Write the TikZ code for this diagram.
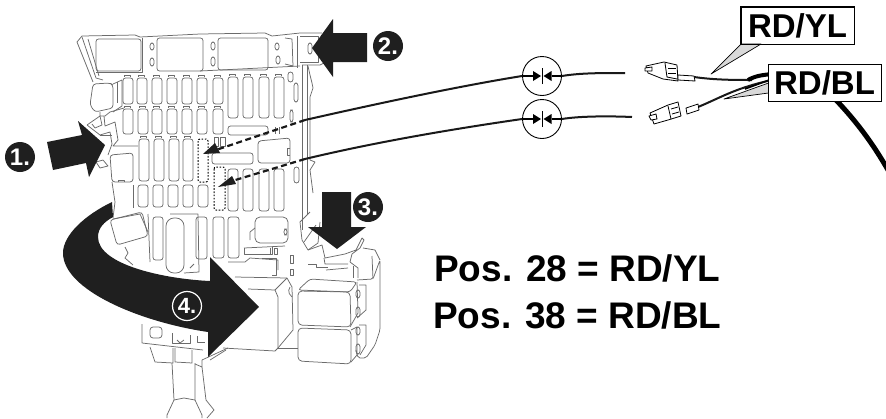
\documentclass[tikz,border=0pt]{standalone}
\usepackage{fontspec}
\setmainfont{Liberation Sans}
\newcommand{\slotbox}[4]{\draw[gl,rounded corners=2.5pt] (#1,#2) rectangle (#3,#4);}
\newcommand{\tabbed}[4]{\draw[gl,rounded corners=2.5pt] (#1,#2) rectangle (#3,#4);\draw[gl] (#1+1,#2-1)--(#1+1,#2-3)--(#3-3,#2-3)--(#3-3,#2-1);}
\newcommand{\dotbox}[4]{\draw[dotg,rounded corners=2pt] (#1,#2) rectangle (#3,#4);}
\tikzset{
  gl/.style={draw=black!58,line width=0.75pt,line join=round},
  dotg/.style={draw=black,line width=1pt,dash pattern=on 1.6pt off 1.6pt},
  wire/.style={draw=black!90,line width=2pt},
  dashwire/.style={draw=black!90,line width=2.2pt,dash pattern=on 6pt off 3.5pt},
  blk/.style={fill=black!88,draw=none},
  badge/.style={circle,fill=black!88,minimum size=30pt,inner sep=0pt,text=white,font=\fontsize{24}{24}\selectfont\bfseries},
  sym/.style={circle,draw=black,line width=0.9pt,fill=white,minimum size=39pt,inner sep=0pt},
  tag/.style={draw=black,line width=1pt,fill=white,inner sep=0pt,minimum height=37pt,minimum width=113pt,font=\fontsize{33}{33}\selectfont\bfseries},
  wedge/.style={fill=black!15,draw=black,line width=0.7pt,line join=round},
  plug/.style={draw=black,line width=0.8pt,fill=white,line join=round},
  big/.style={font=\fontsize{37}{37}\selectfont\bfseries,inner sep=0pt,anchor=base west}
}
\begin{document}
\begin{tikzpicture}[x=1pt,y=-1pt]
\useasboundingbox (0,0) rectangle (886,418);
% ---- housing outline
\draw[gl] (93,82)--(77,42)--(82,36)--(135,35)--(140,37)--(200,34)--(265,33)--(272,36)--(300,33)--(322,33);
\draw[gl] (82,37)--(96,78)--(103,80);
\draw[gl] (88,39)--(99,76);
\draw[gl] (96,72)--(142,72)--(142,38);
\draw[gl] (302,65)--(302,230);
\draw[gl] (307,65)--(307,215);
\draw[gl] (302,65)--(320,65)--(330,60);
\draw[gl] (308,66)--(310,75)--(312,83)--(313,88)--(310,97)--(310,160)--(315,162)--(310,170)--(313,193);
\draw[gl] (297,36)--(297,68);
\draw[gl] (300,36)--(318,36)--(318,62)--(300,62);
\slotbox{308}{43}{312}{54}
% ---- top big rects and little slots
\slotbox{96}{39}{141}{71}
\slotbox{157}{38}{203}{71}
\slotbox{218}{38}{268}{70}
\slotbox{150}{43}{154}{50}
\slotbox{150}{58}{154}{66}
\slotbox{211}{42}{215}{50}
\slotbox{211}{57}{215}{66}
\slotbox{275}{43}{279}{50}
\slotbox{276}{56}{280}{64}
\draw[gl] (285,38)--(292,39)--(293,66)--(285,64);
\draw[gl] (200,71)--(300,66);
% ---- slot rows
\foreach \x in {123,137,152,167,182,197,213}{\tabbed{\x}{78}{\x+10}{104}}
\foreach \x in {123,138,152,167,182,197,213}{\tabbed{\x}{109}{\x+10}{134}}
\foreach \x in {228,243,259,274}{\tabbed{\x}{77}{\x+10}{118}}
\foreach \x in {139,154,169,183}{\tabbed{\x}{139}{\x+10}{181}}
\foreach \x in {138,153,168,183,198}{\slotbox{\x}{185}{\x+10}{207}}
\foreach \x in {228,243,259,274}{\slotbox{\x}{169}{\x+10}{211}}
\slotbox{153}{217}{163}{260}
\draw[gl,rounded corners=8pt] (166,218) rectangle (184,273);
\slotbox{196}{217}{207}{259}
\slotbox{213}{217}{224}{258}
\slotbox{228}{217}{239}{258}
\draw[gl] (170,214)--(198,214)--(199,272)--(184,273);
\draw[gl] (190,268)--(194,264);
\slotbox{288}{72}{293}{82}
\slotbox{294}{83}{298}{102}
\slotbox{290}{110}{293}{122}
\slotbox{228}{126}{268}{135}
\slotbox{212}{153}{253}{164}
\draw[gl,rounded corners=3pt] (258,141)--(290,138)--(290,163)--(258,163)--cycle;
\draw[gl] (290,148)--(287,148)--(287,155)--(290,155);
\draw[gl] (275,127)--(275,134);\draw[gl] (279,127)--(279,134);
\slotbox{294}{167}{299}{183}
\draw[gl] (214,137) rectangle (218,146);
\draw[gl] (220,137) rectangle (225,146);
% lower mid detail
\draw[gl,rounded corners=5pt] (255,217) rectangle (288,243);
\draw[gl] (255,228)--(250,232)--(250,240);
\slotbox{284}{229}{287}{235}
\draw[gl] (244,248)--(285,246);
\draw[gl] (244,248)--(244,254)--(272,254)--(272,247);
\draw[gl] (270,248)--(270,254);\draw[gl] (274,248) rectangle (277,254);
\draw[gl] (228,262)--(245,262)--(250,258)--(278,260)--(278,270);
\draw[gl] (262,258)--(276,258)--(276,275)--(272,275);
\draw[gl] (290,255) rectangle (293,263);
\draw[gl] (290,269) rectangle (293,275);
% ---- left side blocks
\draw[gl,rounded corners=3pt] (93,84)--(110,83)--(113,85)--(113,108)--(95,112)--(90,105)--cycle;
\draw[gl] (113,84)--(122,80)--(122,106)--(113,112);
\draw[gl] (117,82)--(117,103);
\draw[gl] (100,112)--(100,116)--(105,116)--(110,112)--(124,108);
\draw[gl] (87,125)--(100,116)--(102,125)--(95,128)--(92,124);
\draw[gl] (87,125)--(100,135)--(110,132)--(112,144)--(108,155);
\draw[gl] (104,116)--(105,126)--(115,122)--(118,140)--(113,146)--(138,146);
\draw[gl] (100,135)--(112,135);
\draw[gl] (96,162)--(100,168)--(108,166)--(103,160)--cycle;
\draw[gl,rounded corners=3pt] (110,155)--(133,153)--(133,182)--(112,182)--cycle;
\draw[gl] (118,182)--(118,180)--(124,180)--(124,182);
\draw[gl] (133,185)--(133,208);
\draw[gl] (112,182)--(115,202)--(113,218);
% lower-left block
\draw[gl,rounded corners=3pt] (110,220)--(142,212)--(148,236)--(117,245)--cycle;
\draw[gl] (113,219)--(140,214)--(148,232);
\draw[gl] (125,247)--(128,253)--(125,258)--(133,265);
\draw[gl] (148,214)--(150,262);
% ---- bottom
\draw[gl] (142,324)--(142,343)--(203,350);
\draw[gl,rounded corners=3pt] (150,327) rectangle (162,338);
\draw[gl] (172,333)--(172,343)--(190,343)--(190,335);
\draw[gl] (177,340)--(180,343)--(184,340);
\draw[gl] (197,336)--(197,342)--(205,342);
\draw[gl] (150,347)--(155,362)--(173,363)--(173,348);
\draw[gl] (175,348)--(175,362)--(192,363)--(192,350);
\draw[gl] (172,363)--(174,400)--(167,415)--(167,418);
\draw[gl] (195,363)--(195,400)--(202,415)--(202,418);
\draw[gl] (174,400)--(184,398)--(195,400);
\draw[gl] (202,367)--(206,400)--(214,410)--(207,418);
\draw[gl] (195,364)--(202,367)--(202,360)--(228,348);
\draw[gl] (210,360)--(226,350);
% ---- big connector box
\draw[gl] (235,277)--(287,278)--(292,287)--(293,330)--(278,348)--(275,351)--(223,348);
\draw[gl] (248,289)--(275,290)--(278,297)--(278,348);
\draw[gl] (287,278)--(275,290);
\draw[gl] (278,348)--(298,348);
\draw[gl,rounded corners=2pt] (290,287)--(288,292)--(292,297);
% ---- relays
\draw[gl,rounded corners=3pt] (310,279)--(357,282)--(350,292)--(298,290)--cycle;
\draw[gl,rounded corners=4pt] (298,291)--(350,292)--(351,327)--(298,325)--cycle;
\draw[gl] (357,282)--(358,313)--(350,327);
\draw[gl,rounded corners=4pt] (298,328)--(351,330)--(351,364)--(298,361)--cycle;
\draw[gl] (351,362)--(357,355)--(357,327)--(351,330);
\draw[gl,rounded corners=2pt] (357,280)--(373,279)--(380,260)--(380,330)--(375,345)--(366,358)--(358,358)--(356,350);
\draw[gl] (363,248)--(375,250)--(380,260);
\draw[gl] (373,279)--(372,256);
\draw[gl] (359,285)--(366,285)--(366,310)--(357,318);
\draw[gl] (359,325)--(366,325)--(366,345)--(360,355);
\slotbox{356}{290}{360}{298}
\slotbox{356}{307}{360}{317}
\slotbox{356}{327}{360}{335}
\slotbox{356}{344}{360}{354}
% under arrow 3
\draw[gl] (310,212)--(300,222)--(302,240)--(308,250)--(318,243)--(320,222);
\draw[gl] (304,242)--(316,225);
\draw[gl] (308,250)--(322,245)--(325,258)--(345,254)--(356,250)--(362,238)--(364,240)--(360,248)--(352,254)--(350,262);
\draw[gl] (324,258)--(325,264)--(348,264);
\draw[gl] (350,262)--(358,268)--(358,278);
\draw[gl] (353,266)--(353,278);
\draw[gl] (308,264)--(316,264)--(316,267)--(328,267);
\draw[gl] (326,270)--(348,268);
% ---- dotted slots
\dotbox{198}{139}{208}{182}
\dotbox{214}{167}{225}{210}
% ---- symbols
\node[sym] (c1) at (542,76) {};
\node[sym] (c2) at (542,119) {};
\foreach \n in {c1,c2}{
  \draw[line width=0.6pt] ([yshift=-8pt]\n.center)--([yshift=8pt]\n.center);
  \fill[black] ([xshift=-1pt]\n.center)--([xshift=-9pt,yshift=-5pt]\n.center)--([xshift=-9pt,yshift=5pt]\n.center)--cycle;
  \fill[black] ([xshift=1.5pt]\n.center)--([xshift=9.5pt,yshift=-5pt]\n.center)--([xshift=9.5pt,yshift=5pt]\n.center)--cycle;
  \draw[line width=1.5pt] (\n.west)--([xshift=-9pt]\n.center);
  \draw[line width=1.5pt] ([xshift=9.5pt]\n.center)--(\n.east);
}
% ---- wires
\coordinate (k1) at (305,120);
\coordinate (k2) at (305,159);
\coordinate (t1) at (203,154);
\coordinate (t2) at (218,187);
\coordinate (e1) at (625,73);
\coordinate (e2) at (632,117);
\draw[wire] (k1) .. controls (380,103) and (460,86) .. (c1.west);
\draw[wire] (k2) .. controls (380,141) and (460,128) .. (c2.west);
\draw[wire] (c1.east) .. controls (580,73) and (600,73) .. (e1);
\draw[wire] (c2.east) .. controls (580,116) and (610,116) .. (e2);
\draw[dashwire] (k1)--(216,150);
\draw[dashwire] (k2)--(232,181);
\fill[black!88] (t1)--(215,143)--(220,153)--cycle;
\fill[black!88] (t2)--(232,176)--(236,184)--cycle;
% ---- harness
\draw[draw=black,line width=5pt] (836,100) .. controls (855,120) and (872,142) .. (888,170);
\draw[wire] (694,77) .. controls (715,80) and (735,80) .. (752,80);
\draw[draw=black,line width=4pt] (748,80) .. controls (755,76) and (762,75) .. (772,74);
\draw[wire] (698,107) .. controls (720,98) and (735,88) .. (772,80);
\draw[draw=black,line width=1.6pt] (745,89) -- (772,79);
% plug 1
\draw[plug] (646,66)--(664,62)--(677,65)--(678,81)--(663,79)--(648,73)--cycle;
\draw[plug] (645,68)--(652,67)--(652,71)--(645,71)--cycle;
\draw[line width=0.8pt] (665,63)--(667,77)--(677,79);
\draw[line width=0.8pt] (668,68)--(676,68);\draw[line width=0.8pt] (668,73)--(676,73);
\draw[plug] (678,75)--(694,76)--(695,81)--(678,80)--cycle;
% plug 2
\draw[plug] (650,113)--(668,105)--(678,102)--(681,116)--(668,120)--(654,124)--cycle;
\draw[plug] (649,116)--(656,114)--(657,119)--(651,120)--cycle;
\draw[line width=0.8pt] (668,106)--(671,119);
\draw[line width=0.8pt] (671,109)--(678,107);\draw[line width=0.8pt] (672,114)--(679,112);
\draw[plug] (686,108)--(698,104)--(699,110)--(687,114)--cycle;
% ---- tags
\node[tag] (yl) at (797.5,25.5) {RD/YL};
\node[tag] (bl) at (824.5,83) {RD/BL};
\draw[wedge] (741,44)--(761,44)--(711,74)--cycle;
\draw[wedge] (768.5,83)--(768.5,93)--(724,99)--cycle;
\draw[line width=1pt] (yl.north west) rectangle (yl.south east);
% ---- black arrows
\fill[blk] (47,142)--(82,135)--(78,121)--(105,145)--(89,177)--(86,163)--(53,170)--cycle;
\fill[blk] (312,48)--(333,19)--(333,33)--(367,33)--(367,62)--(333,62)--(333,77)--cycle;
\fill[blk] (322,192)--(351,192)--(351,227)--(366,227)--(337,249)--(308,227)--(322,227)--cycle;
\fill[blk] (112,202) .. controls (85,215) and (63,235) .. (63,253)
   .. controls (63,290) and (140,322) .. (208,332)
   -- (208,357) -- (259,307) -- (210,257) -- (210,281)
   .. controls (165,279) and (98,265) .. (98,237)
   .. controls (98,228) and (104,222) .. (113,217) -- cycle;
% ---- badges
\node[badge] (b1) at (20,157) {1.};
\node[badge] (b2) at (388,46) {2.};
\node[badge] (b3) at (368,207) {3.};
\node[circle,draw=white,line width=1.2pt,text=white,minimum size=29pt,inner sep=0pt,font=\fontsize{22}{22}\selectfont\bfseries] (b4) at (187,306) {4.};
% ---- text
\node[big] (p1) at (434,281) {Pos. 28 = RD/YL};
\node[big] (p2) at (433,328) {Pos. 38 = RD/BL};
\end{tikzpicture}
\end{document}
